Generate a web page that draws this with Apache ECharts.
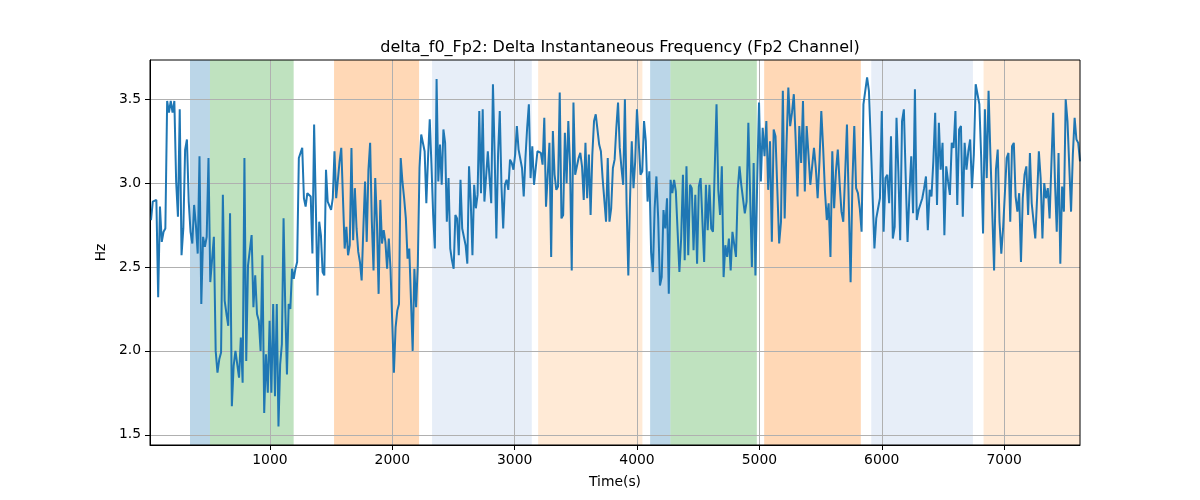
<!DOCTYPE html>
<html>
<head>
<meta charset="utf-8">
<script src="https://cdn.jsdelivr.net/npm/echarts@6/dist/echarts.min.js"></script>
<style>html,body{margin:0;padding:0;background:#fff;}#chart{width:1200px;height:500px;}</style>
</head>
<body>
<div id="chart"></div>
<script>
// ---- data ----
const chartTitle = 'delta_f0_Fp2: Delta Instantaneous Frequency (Fp2 Channel)';
const deltaF0 = [
2.78,2.89,2.88,2.90,2.32,2.86,2.65,2.71,2.73,3.49,3.42,3.49,3.42,3.49,3.01,2.80,3.44,2.57,2.73,3.20,
3.26,2.89,2.71,2.64,2.87,2.75,2.58,3.16,2.28,2.68,2.62,2.68,3.15,2.41,2.41,2.68,2.00,1.87,1.95,1.99,
2.93,2.30,2.22,2.15,2.82,1.67,1.91,2.00,1.99,1.84,2.08,1.81,3.15,1.94,2.51,2.51,2.69,2.26,2.45,2.22,
2.18,2.00,2.57,1.63,1.98,1.75,2.18,1.75,2.28,1.73,
2.28,1.55,1.92,2.04,2.79,2.26,1.86,2.28,2.25,2.49,2.43,2.49,2.53,3.15,3.16,3.21,2.91,2.86,2.94,2.93,
2.92,2.58,3.35,2.87,2.33,2.77,2.69,2.47,2.45,3.08,2.89,2.89,2.84,2.91,3.19,2.91,2.91,3.13,3.21,3.22,
2.61,2.74,2.57,2.63,3.21,2.66,2.97,2.73,2.59,2.53,2.42,2.73,3.01,2.65,3.08,3.24,2.77,2.48,3.03,2.77,
2.34,2.90,2.64,2.72,2.65,2.49,2.67,2.49,2.18,1.87,
2.14,2.24,2.28,3.15,3.01,2.91,2.79,2.55,2.61,2.61,2.00,2.49,2.26,2.51,3.09,3.29,3.30,3.19,2.88,3.15,
3.38,3.11,2.81,2.61,3.62,3.01,3.23,2.99,3.32,3.24,2.77,3.03,2.61,2.54,2.49,2.81,2.79,2.57,3.02,2.73,
2.72,2.63,2.52,3.10,2.89,2.57,2.99,2.85,2.93,3.43,2.94,3.44,2.89,2.89,3.19,3.03,2.88,3.59,3.17,2.67,
3.17,3.43,2.98,2.73,2.99,3.02,2.96,3.14,3.12,3.08,
3.17,3.34,3.20,3.19,3.09,2.92,3.15,3.33,3.47,3.03,3.22,2.99,3.00,3.19,3.19,3.18,3.11,3.39,2.86,3.05,
3.24,2.56,3.31,3.05,2.96,2.98,3.54,2.79,2.81,3.30,3.00,3.37,3.11,2.48,3.48,3.05,3.06,3.15,3.18,3.10,
2.90,3.24,2.91,3.17,2.81,3.17,3.37,3.41,3.42,3.23,3.19,3.03,3.03,2.77,3.15,2.77,2.85,3.09,3.14,3.33,
3.48,3.21,3.09,2.99,3.50,2.87,2.45,2.91,3.25,2.97,
3.13,3.44,3.44,3.05,3.07,3.37,3.25,2.89,3.07,2.59,2.47,2.85,3.04,2.79,2.39,2.44,2.84,2.73,2.91,2.34,
3.02,2.94,3.02,2.95,2.71,2.47,2.67,3.05,2.54,3.10,2.57,2.99,2.97,2.60,2.93,2.52,2.98,3.03,3.04,2.53,
2.99,2.72,2.99,2.73,2.71,2.71,3.47,2.96,2.81,3.10,2.44,2.63,2.56,2.67,2.48,2.71,2.72,2.56,2.96,3.10,
2.99,2.98,2.82,2.89,3.36,2.93,2.50,3.12,2.45,
3.01,3.48,3.01,3.33,3.16,3.37,2.96,3.25,2.65,3.32,3.28,3.27,2.64,2.77,3.55,2.79,3.23,3.57,3.34,3.42,
3.53,3.26,2.92,3.34,3.12,3.49,2.95,3.34,3.17,2.99,3.00,3.21,3.09,2.91,3.13,3.43,3.21,2.95,2.78,2.88,
2.56,3.19,2.85,3.07,3.20,3.00,2.83,2.77,3.05,3.35,3.34,2.41,3.01,3.34,2.97,2.94,2.85,2.71,3.47,3.46,
3.63,3.55,3.25,3.24,2.61,
2.79,2.85,2.91,3.43,2.71,3.03,3.05,2.88,3.28,2.67,2.74,3.39,3.07,2.66,3.37,3.44,3.03,2.65,2.93,3.16,
2.82,3.56,2.78,2.84,2.85,2.91,2.97,3.04,2.72,2.96,2.92,3.13,3.42,2.87,3.36,3.08,3.24,2.69,3.10,3.01,
2.93,3.24,3.21,3.43,2.87,3.32,3.34,2.80,3.24,3.08,3.19,3.26,2.97,3.17,3.59,3.53,3.47,3.15,2.70,3.44,
3.03,3.55,3.17,2.83,2.48,
3.08,3.20,2.77,2.58,2.73,2.74,3.15,3.18,2.77,3.22,3.24,2.92,2.83,2.94,2.53,2.91,3.05,3.10,2.81,3.18,
2.88,2.89,2.67,2.91,3.19,3.03,2.67,3.00,2.91,2.97,2.79,3.11,3.42,3.01,2.71,3.18,2.52,2.98,2.83,3.50,
3.37,3.38,2.83,3.17,3.39,3.26,3.24,3.13
];
// sample index -> time (s) anchors; samples between anchors are evenly spaced
const anchorIndex = [0, 70, 140, 210, 280, 349, 414, 479, 526];
const anchorTime  = [28, 1056, 2027, 3004, 3985, 4982, 5955, 6933, 7620];
const xMin = 20, xMax = 7620;
// shaded segments (time in s) and their kind
const spanStart = [347, 510, 1524, 2325, 3192, 4107, 4273, 5039, 5914, 6832];
const spanEnd   = [510, 1194, 2219, 3140, 4044, 4273, 4979, 5829, 6745, 7620];
const spanKind  = ['blue','green','orange','lightblue','lightorange','blue','green','orange','lightblue','lightorange'];
const xTicks = [1000, 2000, 3000, 4000, 5000, 6000, 7000];
const yTicks = [1.5, 2.0, 2.5, 3.0, 3.5];
const yMin = 1.439, yMax = 3.734;

// ---- build ----
const kindColor = {blue:'#1f77b4', green:'#2ca02c', orange:'#ff7f0e', lightblue:'#aec7e8', lightorange:'#ffbb78'};
function timeOf(i) {
  for (let k = 0; k < anchorIndex.length - 1; k++) {
    const a = anchorIndex[k], b = anchorIndex[k + 1];
    if (i <= b || k === anchorIndex.length - 2) {
      return anchorTime[k] + (i - a) * (anchorTime[k + 1] - anchorTime[k]) / (b - a);
    }
  }
}
const lineData = deltaF0.map((v, i) => [timeOf(i), v]);
const areas = spanStart.map((s, i) => [
  {xAxis: s, itemStyle: {color: kindColor[spanKind[i]], opacity: 0.3}},
  {xAxis: spanEnd[i]}
]);
const font = 'DejaVu Sans';
const chart = echarts.init(document.getElementById('chart'), null, {renderer: 'canvas'});
chart.setOption({
  animation: false,
  backgroundColor: '#fff',
  title: {
    text: chartTitle, left: 615, top: 35, textAlign: 'center',
    textStyle: {fontFamily: font, fontSize: 16, fontWeight: 'normal', color: '#000'}
  },
  grid: {left: 150, right: 120, top: 60, bottom: 55, show: true, borderColor: '#000', borderWidth: 1, backgroundColor: 'transparent', z: 6},
  xAxis: {
    type: 'value', min: xMin, max: xMax, z: 3,
    name: 'Time(s)', nameLocation: 'middle', nameGap: 30,
    nameTextStyle: {fontFamily: font, fontSize: 13.9, color: '#000'},
    axisLine: {show: true, onZero: false, lineStyle: {color: '#000', width: 1}},
    axisTick: {show: true, length: 5, customValues: xTicks, lineStyle: {color: '#000'}},
    axisLabel: {customValues: xTicks, margin: 8, fontFamily: font, fontSize: 13.9, color: '#000',
      formatter: v => String(v)},
    splitLine: {show: true, lineStyle: {color: '#b0b0b0', width: 1}}
  },
  yAxis: {
    type: 'value', min: yMin, max: yMax, z: 3,
    name: 'Hz', nameLocation: 'middle', nameGap: 35, nameRotate: 90,
    nameTextStyle: {fontFamily: font, fontSize: 13.9, color: '#000'},
    axisLine: {show: true, onZero: false, lineStyle: {color: '#000', width: 1}},
    axisTick: {show: true, length: 5, customValues: yTicks, lineStyle: {color: '#000'}},
    axisLabel: {customValues: yTicks, margin: 9, fontFamily: font, fontSize: 13.9, color: '#000',
      formatter: v => v.toFixed(1)},
    splitLine: {show: true, lineStyle: {color: '#b0b0b0', width: 1}}
  },
  series: [
    {type: 'line', data: [], z: 1, silent: true,
     markArea: {silent: true, data: areas}},
    {type: 'line', data: lineData, z: 5, symbol: 'none', showSymbol: false,
     lineStyle: {color: '#1f77b4', width: 2}, itemStyle: {color: '#1f77b4'}}
  ]
});
</script>
</body>
</html>
